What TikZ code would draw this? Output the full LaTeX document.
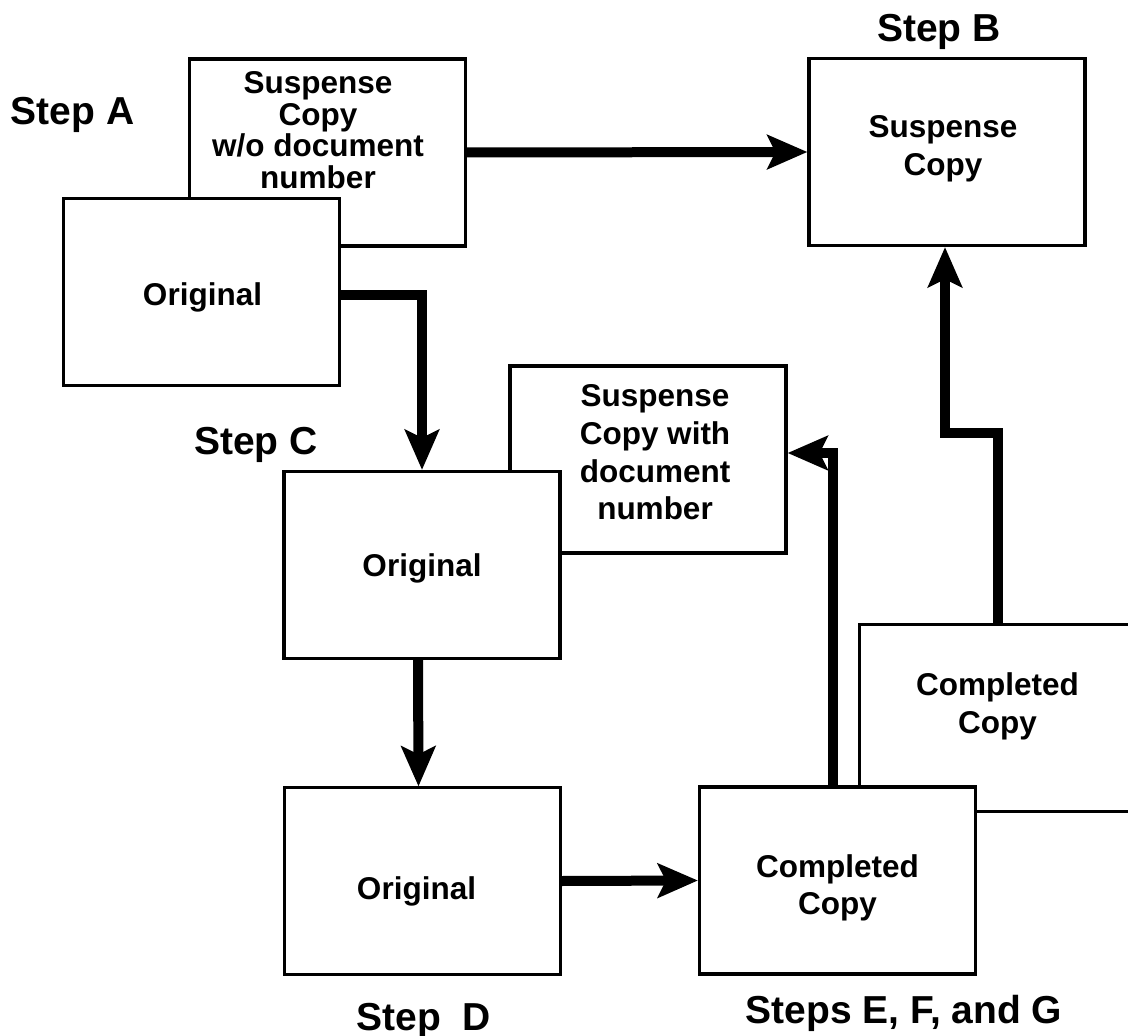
\documentclass[tikz,border=0pt]{standalone}
\usepackage{fontspec}
\setmainfont{Liberation Sans}
\usetikzlibrary{arrows.meta}
\tikzset{
  doc/.style={draw, line width=1.6pt, fill=white, minimum width=138pt, minimum height=93.5pt, inner sep=0pt},
  doctext/.style={inner sep=0pt, align=center, font=\fontsize{15.75}{18.8}\selectfont\bfseries},
  thinbox/.style={doc/.append style={line width=1.1pt}},
  tightlines/.style={doctext/.append style={font=\fontsize{15.75}{15.8}\selectfont\bfseries}},
  steplabel/.style={inner sep=0pt, anchor=base, font=\fontsize{19.5}{21}\selectfont\bfseries},
  flow/.style={line width=5pt, -{Stealth[length=20pt,width=17pt,inset=4pt]}}
}
\newcommand{\docbox}[5][]{
\begin{scope}[#1]
\node [doc] (#2) at (#3) {};
\node [doctext] (#2text) at ([shift={(#4)}]#2.center) {#5};
\end{scope}
}
\begin{document}
\begin{tikzpicture}[x=0.5pt,y=-0.5pt]
\useasboundingbox (0,0) rectangle (1128,1036);
\docbox[tightlines]{sa}{327.5,152.5}{-9.5,-22.5}{Suspense\\Copy\\w/o document\\number}
\docbox{oa}{201.5,292}{1,5}{Original}
\docbox{sb}{947,152}{-4,-3}{Suspense\\Copy}
\docbox{sc}{648,459.5}{7,-7}{Suspense\\Copy with\\document\\number}
\docbox{oc}{422,565}{0,3}{Original}
\docbox[thinbox]{od}{422.5,881}{-6,10.5}{Original}
\docbox{cf}{997.5,718}{0,-11.5}{Completed\\Copy}
\docbox{ce}{837.5,880.5}{0,7.5}{Completed\\Copy}
\node [steplabel] (stepa) at (72.5,125) {Step A};
\node [steplabel] (stepb) at (939,42) {Step B};
\node [steplabel] (stepc) at (256,455) {Step C};
\node [steplabel] (stepd) at (423.5,1030) {Step\ \ D};
\node [steplabel] (stepefg) at (904,1023) {Steps E, F, and G};
\draw [flow] (sa.east) -- (sb.west);
\draw [flow] ([shift={(0,3)}]oa.east) -| (oc.north);
\draw [flow] ([shift={(-4,0)}]oc.south) -- ([shift={(-4,0)}]od.north);
\draw [flow] (od.east) -- (ce.west);
\draw [flow] ([shift={(-4.5,0)}]ce.north) |- ([shift={(0,-6.5)}]sc.east);
\draw [flow] (cf.north) -- ++(0,-190) -| ([shift={(-2,0)}]sb.south);
\end{tikzpicture}
\end{document}
